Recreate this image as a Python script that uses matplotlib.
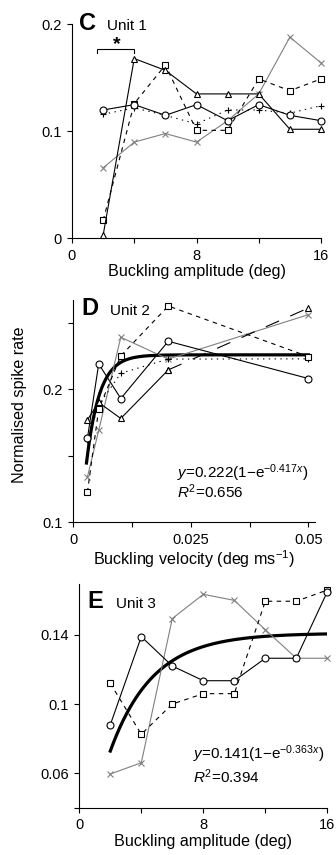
import numpy as np
import matplotlib
matplotlib.use("Agg")
import matplotlib.pyplot as plt

plt.rcParams['font.family'] = ['Liberation Sans', 'DejaVu Sans']
plt.rcParams['mathtext.fontset'] = 'custom'
plt.rcParams['mathtext.rm'] = 'Liberation Sans'
plt.rcParams['mathtext.it'] = 'Liberation Sans:italic'

# panel C - unit 1, amplitude
amp_x = [2, 4, 6, 8, 10, 12, 14, 16]
c_circle = [0.120, 0.125, 0.115, 0.125, 0.110, 0.125, 0.115, 0.110]
c_triangle = [0.003, 0.168, 0.157, 0.135, 0.135, 0.135, 0.102, 0.102]
c_square = [0.017, 0.126, 0.162, 0.101, 0.101, 0.149, 0.138, 0.149]
c_plus = [0.116, 0.122, 0.115, 0.107, 0.120, 0.120, 0.117, 0.124]
c_cross = [0.066, 0.090, 0.098, 0.090, 0.110, 0.135, 0.188, 0.164]

# panel D - unit 2, velocity
vel_x = [0.003, 0.0054, 0.0101, 0.0202, 0.05]
d_circle = [0.163, 0.219, 0.193, 0.236, 0.208]
d_triangle = [0.177, 0.190, 0.178, 0.2145, 0.261]
d_square = [0.1225, 0.185, 0.225, 0.2625, 0.2245]
d_plus = [0.162, 0.188, 0.212, 0.2226, 0.2228]
d_cross = [0.134, 0.169, 0.239, 0.2226, 0.256]
fit_d_amp, fit_d_rate, fit_d_start = 0.2258, 365.0, 0.0028

# panel E - unit 3, amplitude
e_circle = [0.088, 0.139, 0.122, 0.1135, 0.1135, 0.1265, 0.1265, 0.165]
e_square = [0.112, 0.0825, 0.100, 0.106, 0.106, 0.1595, 0.1595, 0.166]
e_cross = [0.0595, 0.066, 0.1495, 0.1635, 0.160, 0.143, 0.1265, 0.1265]
fit_e_amp, fit_e_rate, fit_e_start = 0.141, 0.363, 2.0

GREY = '#808080'
LW = 0.8
MS = 5
FS = 10.5      # tick labels
LFS = 11.6     # axis labels

W, H = 336, 855
fig = plt.figure(figsize=(W / 100, H / 100), dpi=100)


def px_axes(left, right, top, bottom):
    return fig.add_axes([left / W, 1 - bottom / H, (right - left) / W, (bottom - top) / H])


def style(ax):
    for s in ['top', 'right']:
        ax.spines[s].set_visible(False)
    for s in ['left', 'bottom']:
        ax.spines[s].set_linewidth(0.8)
    ax.tick_params(direction='out', length=3.6, width=0.8, labelsize=FS, pad=4)


def series(ax, x, y, marker, ls='-', color='k', ms=MS, dashes=None):
    kw = dict(color=color, lw=LW, marker=marker, ms=ms, mfc='white', mec=color,
              mew=0.8, clip_on=False, zorder=3)
    if marker in ('+', 'x'):
        kw['mfc'] = color
    line, = ax.plot(x, y, ls, **kw)
    if dashes is not None:
        line.set_dashes(dashes)
    return line


# ---- C ----
axc = px_axes(72, 321, 24.3, 238.5)
style(axc)
series(axc, amp_x, c_cross, 'x', color=GREY)
series(axc, amp_x, c_plus, '+', ls='--', dashes=(1.2, 4))
series(axc, amp_x, c_square, 's', ls='--', dashes=(4, 4))
series(axc, amp_x, c_circle, 'o')
series(axc, amp_x, c_triangle, '^')
axc.set_xlim(0, 16)
axc.set_ylim(0, 0.2)
axc.set_xticks([0, 4, 8, 12, 16])
axc.set_xticklabels(['0', '', '8', '', '16'])
axc.set_yticks([0, 0.1, 0.2])
axc.set_yticklabels(['0', '0.1', '0.2'])
axc.set_xlabel('Buckling amplitude (deg)', fontsize=LFS, labelpad=1)
# significance bracket
axc.plot([1.6, 1.6, 4.0, 4.0], [0.1735, 0.1770, 0.1770, 0.1735], color='k', lw=0.8, clip_on=False)
axc.text(2.9, 0.181, '*', fontsize=14, fontweight='bold', ha='center', va='center')
fig.text(79 / W, 1 - 30 / H, 'C', fontsize=17, fontweight='bold', va='baseline')
fig.text(107 / W, 1 - 30 / H, 'Unit 1', fontsize=11, va='baseline')

# ---- D ----
axd = px_axes(73.3, 315, 300, 522.3)
style(axd)
xf = np.linspace(fit_d_start, 0.05, 200)
axd.plot(xf, fit_d_amp * (1 - np.exp(-fit_d_rate * xf)), color='k', lw=2.3, zorder=2)
series(axd, vel_x, d_cross, 'x', color=GREY)
series(axd, vel_x, d_plus, '+', ls='--', dashes=(1.2, 4))
series(axd, vel_x, d_square, 's', ls='--', dashes=(4, 4))
series(axd, vel_x, d_circle, 'o')
series(axd, vel_x[:4], d_triangle[:4], '^')
series(axd, vel_x[3:], d_triangle[3:], '^', ls='--', dashes=(13, 11))
axd.set_xlim(0, 0.0514)
axd.set_ylim(0.1, 0.267)
axd.set_xticks([0, 0.0125, 0.025, 0.0375, 0.05])
axd.set_xticklabels(['0', '', '0.025', '', '0.05'])
axd.set_yticks([0.1, 0.15, 0.2, 0.25])
axd.set_yticklabels(['0.1', '', '0.2', ''])
axd.set_xlabel('Buckling velocity (deg ms$^{-1}$)', fontsize=LFS, labelpad=1)
axd.text(0.43, 0.20, r'$y$=0.222(1$-$e$^{-0.417x}$)', transform=axd.transAxes, fontsize=11)
axd.text(0.43, 0.11, r'$R^2$=0.656', transform=axd.transAxes, fontsize=11)
fig.text(81 / W, 1 - 315 / H, 'D', fontsize=17, fontweight='bold', va='baseline')
fig.text(110 / W, 1 - 315 / H, 'Unit 2', fontsize=11, va='baseline')
fig.text(20 / W, 1 - 405 / H, 'Normalised spike rate', rotation=90, fontsize=LFS,
         ha='center', va='center')

# ---- E ----
axe = px_axes(79.3, 327.3, 584.3, 807.7)
style(axe)
xf = np.linspace(fit_e_start, 16, 200)
axe.plot(xf, fit_e_amp * (1 - np.exp(-fit_e_rate * xf)), color='k', lw=2.3, zorder=2)
series(axe, amp_x, e_cross, 'x', color=GREY)
series(axe, amp_x, e_square, 's', ls='--', dashes=(4, 4))
series(axe, amp_x, e_circle, 'o')
axe.set_xlim(0, 16)
axe.set_ylim(0.04, 0.1693)
axe.set_xticks([0, 4, 8, 12, 16])
axe.set_xticklabels(['0', '', '8', '', '16'])
axe.set_yticks([0.04, 0.06, 0.1, 0.14])
axe.set_yticklabels(['', '0.06', '0.1', '0.14'])
axe.set_xlabel('Buckling amplitude (deg)', fontsize=LFS, labelpad=1)
axe.text(0.46, 0.22, r'$y$=0.141(1$-$e$^{-0.363x}$)', transform=axe.transAxes, fontsize=11)
axe.text(0.46, 0.11, r'$R^2$=0.394', transform=axe.transAxes, fontsize=11)
fig.text(87 / W, 1 - 608 / H, 'E', fontsize=17, fontweight='bold', va='baseline')
fig.text(116 / W, 1 - 608 / H, 'Unit 3', fontsize=11, va='baseline')

fig.savefig('out.png', dpi=100)
